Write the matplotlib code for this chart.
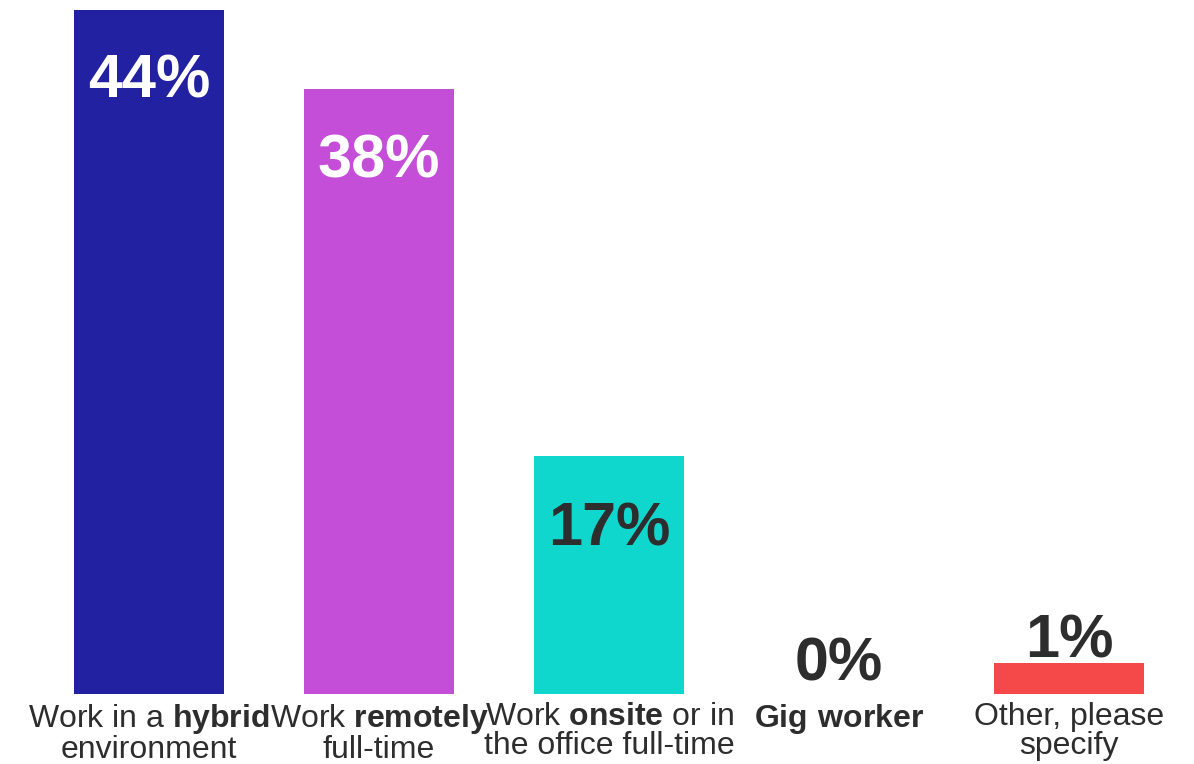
import matplotlib.pyplot as plt

plt.rcParams['font.family'] = ['Liberation Sans', 'DejaVu Sans']
plt.rcParams['mathtext.fontset'] = 'custom'
plt.rcParams['mathtext.rm'] = 'Liberation Sans'
plt.rcParams['mathtext.bf'] = 'Liberation Sans:bold'

categories = ['Work in a $\\mathbf{hybrid}$\nenvironment',
              'Work $\\mathbf{remotely}$\nfull-time',
              'Work $\\mathbf{onsite}$ or in\nthe office full-time',
              '$\\mathbf{Gig\\ worker}$',
              'Other, please\nspecify']
values = [44, 38.9, 15.3, 0, 2.0]
pct_labels = ['44%', '38%', '17%', '0%', '1%']

colors = ['#2121A1', '#C54ED8', '#10D7CD', '#9E9E9E', '#F54848']
label_colors = ['white', 'white', '#2d2d2d', '#2d2d2d', '#2d2d2d']
label_offsets = [-52, -52, -53, 21, 15]  # points from bar top

fig = plt.figure(figsize=(11.94, 7.64), dpi=100)
ax = fig.add_axes([34/1194, 70/764, 1150/1194, 684/764])
x = range(len(values))
ax.bar(x, values, width=0.652, color=colors)
ax.set_xlim(-0.5, 4.5)
ax.set_ylim(0, 44)

for i, v in enumerate(values):
    ax.annotate(pct_labels[i], (i, v), xytext=(0, label_offsets[i]),
                textcoords='offset points', ha='center', va='center',
                fontsize=44, fontweight='bold', color=label_colors[i])

ax.set_xticks(list(x))
ax.set_xticklabels(categories, fontsize=23, color='#2d2d2d', linespacing=0.95,
                   va='top')
ax.tick_params(axis='x', length=0, pad=6)
ax.set_yticks([])
for s in ax.spines.values():
    s.set_visible(False)

fig.savefig('out.png', dpi=100)
